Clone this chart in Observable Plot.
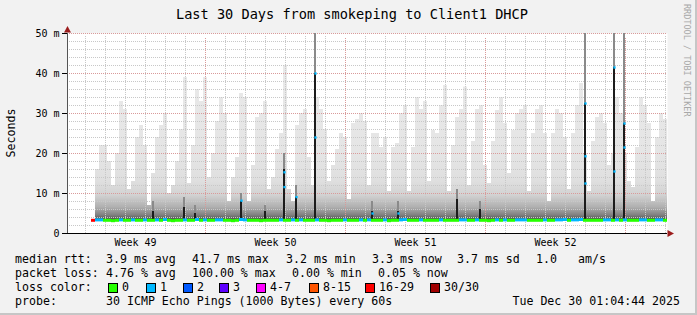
<!DOCTYPE html>
<html><head><meta charset="utf-8">
<script src="https://cdn.jsdelivr.net/npm/d3@7"></script>
<script src="https://cdn.jsdelivr.net/npm/@observablehq/plot@0.6"></script>
<style>
html,body{margin:0;padding:0;background:#f2f2f2;}
#wrap{position:relative;width:697px;height:315px;background:#f2f2f2;overflow:hidden;
  font-family:"DejaVu Sans Mono",monospace;color:#000;
  box-shadow: inset -2px -2px 0 #c6c6c6;}
#wrap svg{position:absolute;left:0;top:0;}
.t{position:absolute;white-space:pre;line-height:14px;font-size:11.6px;}
.box{position:absolute;width:8px;height:8px;border:1px solid #000;box-sizing:content-box;}
</style></head>
<body><div id="wrap"></div>
<script>
// ---------- text ----------
const title = "Last 30 Days from smokeping to Client1 DHCP";
const yLabel = "Seconds";
const watermark = "RRDTOOL / TOBI OETIKER";
const yTicks = [0, 10, 20, 30, 40, 50];
const yTickLabels = ["0", "10 m", "20 m", "30 m", "40 m", "50 m"];
const weekPos = [3.4, 10.4, 17.4, 24.4];          // days from left edge
const weekLabels = ["Week 49", "Week 50", "Week 51", "Week 52"];
const weekLines = [6.9, 13.9, 20.9, 27.9];
const firstDayLine = 0.9;
const rttRow = ["median rtt:", "3.9 ms avg", "41.7 ms max", "3.2 ms min", "3.3 ms now", "3.7 ms sd", "1.0", "am/s"];
const lossRow = ["packet loss:", "4.76 % avg", "100.00 % max", "0.00 % min", "0.05 % now"];
const lossTitle = "loss color:";
const lossLabels = ["0", "1", "2", "3", "4-7", "8-15", "16-29", "30/30"];
const lossColors = ["#26ff00", "#00b8ff", "#0059ff", "#5e00ff", "#ff00ff", "#ff5500", "#ff0000", "#a00000"];
const probeRow = ["probe:", "30 ICMP Echo Pings (1000 Bytes) every 60s"];
const dateText = "Tue Dec 30 01:04:44 2025";

// ---------- data (ms), one value per 0.2-day bin ----------
const binDays = 0.2;
const minRtt = 3.2;
const smokeTop = [
 null,null,null,null,null,null,null,16,22,22,
 18,12,20,33,31,11,13,24,27,22,
 7,15,24,27,30,10,12,18,26,39,
 12.5,22,36,33,39,14,20,28,34,30,
 8,14,19,35,34,8,17,29,30,33,
 11,14,21,25,42,11,8,27,30,31,
 19,12,34,31,26,13,17,21,25,24,
 8.5,27.5,28.5,30,28,12,25,25,21.5,24,
 10.5,21.5,22.5,30,32,10.5,21.5,34,31,33,
 13,25.75,25,32,37,10.5,22,29,31,36.6,
 12,23,31,32,17,12.5,23,30.75,34,27.5,
 15,25.75,30,31,32,10.5,25,31,32,25,
 8,25,31,30,24,11,25,32,37.5,20,
 10.5,23,29,30,27.5,17,20,34,30,20,
 13,11.5,21.5,34,32,27.5,8,24,30,28.5
];
const medianRtt = [
 null,null,null,null,null,null,3.3,3.4,3.4,3.3,
 3.3,3.2,3.3,3.4,3.3,3.3,3.4,3.3,3.3,3.4,
 3.3,3.3,3.4,3.3,3.5,3.3,3.2,3.3,3.3,3.4,
 3.3,3.3,3.5,3.3,3.4,3.3,3.3,3.4,3.4,3.3,
 3.3,3.2,3.3,3.5,3.4,3.3,3.3,3.3,3.2,3.3,
 3.3,3.3,3.3,3.4,3.3,3.3,3.4,3.3,3.4,3.3,
 3.3,3.3,3.4,3.3,3.3,3.2,3.3,3.3,3.3,3.4,
 3.3,3.3,3.3,3.4,3.3,3.4,3.3,3.3,3.3,3.4,
 3.2,3.3,3.3,3.4,3.5,3.3,3.3,3.3,3.4,3.3,
 3.3,3.3,3.3,3.4,3.3,3.3,3.3,3.3,3.4,3.4,
 3.3,3.3,3.4,3.3,3.3,3.2,3.3,3.4,3.3,3.4,
 3.3,3.3,3.4,3.4,3.4,3.3,3.3,3.3,3.3,3.4,
 3.3,3.3,3.4,3.4,3.5,3.3,3.4,3.4,3.5,3.3,
 3.3,3.3,3.3,3.3,3.4,3.4,3.3,3.4,3.3,3.4,
 3.3,3.3,3.3,3.4,3.4,3.3,3.3,3.4,3.4,3.3
];
const lossIdx = [
 null,null,null,null,null,null,6,1,1,0,
 0,0,0,1,0,0,1,0,0,1,
 0,0,1,0,1,0,0,0,0,1,
 0,0,1,0,1,0,0,1,1,0,
 0,0,0,1,1,0,0,0,0,0,
 0,0,0,1,0,0,1,0,1,0,
 0,0,1,0,0,0,0,0,0,1,
 0,0,0,1,0,1,0,0,0,1,
 0,0,0,1,1,0,0,0,1,0,
 0,0,0,1,0,0,0,0,1,1,
 0,0,1,0,0,0,0,1,0,1,
 0,0,1,1,1,0,0,0,0,1,
 0,0,1,1,1,0,1,1,1,0,
 0,0,0,0,1,1,0,1,0,1,
 0,0,0,1,1,0,0,1,1,0
];
// spikes where the median itself jumped (day position, median ms, max ms)
const spikeDay = [4.3, 5.85, 6.4, 8.7, 9.9, 10.85, 11.45, 12.4, 15.25, 16.55, 19.5, 20.65, 25.9, 27.35, 27.85];
const spikeMed = [5.5, 6.5, 5, 8, 5.5, 16, 9, 40, 5.5, 5.5, 8.5, 6, 32.5, 41.5, 27.5];
const spikeMax = [8, 9, 7, 10, 7, 20, 12, 50, 8, 8, 11, 8, 50, 50, 50];
// individual median readings inside spikes (loss 1 colour)
const dotDay = [8.7, 10.85, 10.85, 11.45, 12.4, 12.4, 15.25, 16.55, 25.9, 25.9, 25.9, 27.35, 27.35, 27.85, 27.85];
const dotVal = [8.2, 15.3, 11.6, 9.1, 40, 24, 5, 5, 32.5, 19.3, 12.5, 41.5, 15.5, 27.5, 21.5];

// ---------- build tables ----------
const smoke = smokeTop.map((v, i) => ({x1: i * binDays, x2: (i + 1) * binDays, y1: minRtt, y2: v})).filter(d => d.y2 != null);
const med = medianRtt.map((v, i) => ({x1: i * binDays, x2: (i + 1) * binDays, y: v, c: lossIdx[i] == null ? null : lossColors[lossIdx[i]]})).filter(d => d.y != null);
const spikes = spikeDay.map((d, i) => ({d, med: spikeMed[i], max: spikeMax[i]}));
const dots = dotDay.map((d, i) => ({d, v: dotVal[i]}));
const dayLines = d3.range(firstDayLine, 30, 1).filter(d => !weekLines.some(w => Math.abs(w - d) < 1e-6));
const minorY = d3.range(2, 50, 2).filter(v => v % 10 !== 0);
const majorY = [10, 20, 30, 40, 50];
const spikeHalf = 0.05;

const plot = Plot.plot({
  width: 697, height: 315,
  marginLeft: 67, marginRight: 30, marginTop: 33, marginBottom: 82,
  x: {domain: [0, 30], axis: null},
  y: {domain: [0, 50], axis: null},
  color: {type: "identity"},
  style: {background: "transparent", fontFamily: "'DejaVu Sans Mono', monospace", fontSize: "10px", color: "#000", overflow: "visible"},
  marks: [
    Plot.frame({fill: "#ffffff", stroke: "none"}),
    Plot.rect(smoke, {x1: "x1", x2: "x2", y1: "y1", y2: "y2", fill: "url(#smokeGrad)"}),
    Plot.ruleY(minorY, {stroke: "#c8c8c8", strokeDasharray: "1,1"}),
    Plot.ruleY(majorY, {stroke: "#d99a9a", strokeDasharray: "1,1"}),
    Plot.ruleX(dayLines, {y1: 0, y2: 50, insetBottom: -3, stroke: "#c8c8c8", strokeDasharray: "1,1"}),
    Plot.ruleX(weekLines, {y1: 0, y2: 50, insetBottom: -4, stroke: "#d99a9a", strokeDasharray: "1,1"}),
    Plot.rect(spikes, {x1: d => d.d - spikeHalf, x2: d => d.d + spikeHalf, y1: "med", y2: "max", fill: "#8a8a8a"}),
    Plot.rect(spikes, {x1: d => d.d - spikeHalf, x2: d => d.d + spikeHalf, y1: minRtt, y2: "med", fill: "#1c1c1c"}),
    Plot.ruleY(med, {x1: "x1", x2: "x2", y: "y", stroke: "c", strokeWidth: 3}),
    Plot.dot(dots, {x: "d", y: "v", symbol: "square", r: 1.3, fill: lossColors[1], stroke: "none"}),
    Plot.axisY({ticks: yTicks, tickFormat: d => yTickLabels[yTicks.indexOf(d)], tickSize: 5, tickPadding: 3, label: null, fontSize: 10}),
    Plot.axisX({ticks: weekPos, tickFormat: d => weekLabels[weekPos.indexOf(d)], tickSize: 0, tickPadding: 5, label: null, fontSize: 10}),
    Plot.ruleY([0], {stroke: "#000"}),
    Plot.ruleX([0], {y1: 0, y2: 50, stroke: "#555"})
  ]
});

// smoke gradient (darker near the base line)
const sx = plot.scale("x"), sy = plot.scale("y");
const svgSel = d3.select(plot);
const grad = svgSel.insert("defs", ":first-child").append("linearGradient")
  .attr("id", "smokeGrad").attr("gradientUnits", "userSpaceOnUse")
  .attr("x1", 0).attr("x2", 0).attr("y1", sy.apply(0)).attr("y2", sy.apply(50));
[[0, "#3a3a3a"], [0.066, "#4e4e4e"], [0.09, "#808080"], [0.13, "#b0b0b0"], [0.19, "#d2d2d2"], [0.26, "#dfdfdf"], [0.4, "#e5e5e5"], [1, "#ebebeb"]]
  .forEach(([o, c]) => grad.append("stop").attr("offset", o).attr("stop-color", c));
// axis arrows
const ax = sx.apply(0) + 0.5, ay = sy.apply(50);
svgSel.append("path").attr("d", `M${ax - 3.5},${ay - 0.5}L${ax + 3.5},${ay - 0.5}L${ax},${ay - 7}Z`).attr("fill", "#9b1c1c");
const bx = sx.apply(30), by = sy.apply(0) + 0.5;
svgSel.append("path").attr("d", `M${bx + 0.5},${by - 3.5}L${bx + 0.5},${by + 3.5}L${bx + 7},${by}Z`).attr("fill", "#9b1c1c");

const wrap = document.getElementById("wrap");
wrap.appendChild(plot);

// ---------- html text ----------
function addText(txt, left, top, extra) {
  const s = document.createElement("div");
  s.className = "t"; s.textContent = txt;
  s.style.left = left + "px"; s.style.top = top + "px";
  if (extra) Object.assign(s.style, extra);
  wrap.appendChild(s); return s;
}
addText(title, 176, 6, {fontSize: "13.6px", lineHeight: "16px"});
addText(yLabel, 11, 133, {transform: "translate(-50%,-50%) rotate(-90deg)"});
addText(watermark, 682, 4, {writingMode: "vertical-rl", fontSize: "8.5px", lineHeight: "10px", color: "#a8a8a8"});
const rttX = [15, 106, 192, 286, 372, 457, 536, 578];
rttRow.forEach((t, i) => addText(t, rttX[i], 252));
const lossX = [15, 106, 192, 292, 378];
lossRow.forEach((t, i) => addText(t, lossX[i], 266));
addText(lossTitle, 15, 280);
const labX = [122, 160, 197, 233, 270, 323, 379, 444];
lossLabels.forEach((t, i) => {
  addText(t, labX[i], 280);
  const b = document.createElement("div");
  b.className = "box"; b.style.left = (labX[i] - 14) + "px"; b.style.top = "283px";
  b.style.background = lossColors[i];
  wrap.appendChild(b);
});
const probeX = [15, 106];
probeRow.forEach((t, i) => addText(t, probeX[i], 294));
const dt = addText(dateText, 0, 294);
dt.style.left = (680 - dt.getBoundingClientRect().width) + "px";
</script>
</body></html>
